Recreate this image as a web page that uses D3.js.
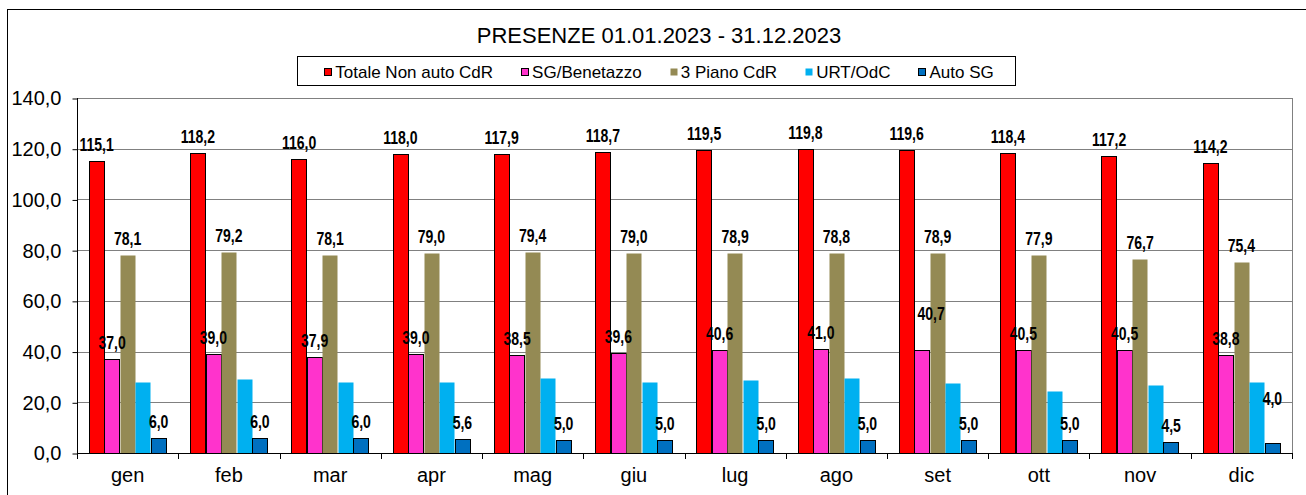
<!DOCTYPE html>
<html>
<head>
	<meta charset="utf-8">
	<title>Presenze 2023</title>
	<script src="https://cdn.jsdelivr.net/npm/d3@7"></script>
	<style>
		body{ margin:0; background:#fff; }
		svg{ display:block; }
		.tick text{ font-family:"Liberation Sans", Arial, sans-serif; }
	</style>
</head>
<body>
<div id="chart"></div>
<script>
	// data
	var months = ['gen','feb','mar','apr','mag','giu','lug','ago','set','ott','nov','dic'];
	var seriesNames = ['Totale Non auto CdR','SG/Benetazzo','3 Piano CdR','URT/OdC','Auto SG'];
	var totaleNonAuto = [115.1,118.2,116.0,118.0,117.9,118.7,119.5,119.8,119.6,118.4,117.2,114.2];
	var sgBenetazzo   = [37.0,39.0,37.9,39.0,38.5,39.6,40.6,41.0,40.7,40.5,40.5,38.8];
	var pianoCdR      = [78.1,79.2,78.1,79.0,79.4,79.0,78.9,78.8,78.9,77.9,76.7,75.4];
	var urtOdc        = [28.1,29.2,28.1,28.1,29.4,28.1,28.9,29.4,27.5,24.4,26.7,27.9];
	var autoSG        = [6.0,6.0,6.0,5.6,5.0,5.0,5.0,5.0,5.0,5.0,4.5,4.0];
	var yTicks = [0,20,40,60,80,100,120,140];

	var seriesValues = [totaleNonAuto, sgBenetazzo, pianoCdR, urtOdc, autoSG];
	var colors  = ['#ff0000','#ff33cc','#948a54','#00b0f0','#0070c0'];
	var strokes = ['#000','#000','none','none','#000'];
	var showLabel = [true,true,true,false,true];
	// a couple of labels were moved by hand in the original
	var nudge = {'1-8':[9,-20], '4-11':[0,-28]};

	var W = 1306, H = 495;
	var pLeft = 77, pRight = 1292, pTop = 98, pBottom = 453;

	var svg = d3.select('#chart').append('svg').attr('width', W).attr('height', H);

	// outer frame
	svg.append('rect').attr('x',7.5).attr('y',9.5).attr('width',1310).attr('height',500)
		.attr('fill','none').attr('stroke','#000');

	var it = d3.formatLocale({decimal:',', thousands:'.', grouping:[3], currency:['€','']});
	var fmt = it.format('.1f');

	var x = d3.scaleBand().domain(months).range([pLeft,pRight]).paddingInner(0.2346).paddingOuter(0.1173);
	var xs = d3.scaleBand().domain(d3.range(seriesNames.length)).range([0, x.bandwidth()]);
	var y = d3.scaleLinear().domain([0,140]).range([pBottom, pTop]);

	// gridlines
	svg.append('g').selectAll('line').data(yTicks.filter(function(d){return d>0;})).enter().append('line')
		.attr('x1',pLeft).attr('x2',pRight)
		.attr('y1',function(d){return Math.round(y(d))+0.5;})
		.attr('y2',function(d){return Math.round(y(d))+0.5;})
		.attr('stroke','#808080');
	svg.append('line').attr('x1',pRight+0.5).attr('x2',pRight+0.5).attr('y1',pTop).attr('y2',pBottom)
		.attr('stroke','#808080');

	// bars
	var barLayer = svg.append('g');
	var labelLayer = svg.append('g');
	seriesValues.forEach(function(vals, s){
		barLayer.append('g').selectAll('rect').data(vals).enter().append('rect')
			.attr('x', function(d,i){return Math.round(x(months[i]) + xs(s)) + 0.5;})
			.attr('y', function(d){return Math.round(y(d)) + 0.5;})
			.attr('width', Math.round(xs.bandwidth()))
			.attr('height', function(d){return Math.round(pBottom - y(d));})
			.attr('fill', colors[s])
			.attr('stroke', strokes[s]);
		if(!showLabel[s]) return;
		labelLayer.append('g').selectAll('text').data(vals).enter().append('text')
			.text(function(d){return fmt(d);})
			.attr('transform', function(d,i){
				var n = nudge[s+'-'+i] || [0,0];
				var tx = x(months[i]) + xs(s) + xs.bandwidth()/2 + n[0];
				var ty = y(d) - 10 + n[1];
				return 'translate('+tx+','+ty+') scale(0.78,1)';
			})
			.style('text-anchor','middle')
			.style('font-family','"Liberation Sans", Arial, sans-serif')
			.style('font-weight','bold')
			.style('font-size','18px')
			.style('fill','#000');
	});

	// y axis
	var yAxis = d3.axisLeft(y).tickValues(yTicks).tickSize(5).tickPadding(11).tickFormat(fmt);
	var ya = svg.append('g').attr('transform','translate('+(pLeft+0.5)+',0.5)').call(yAxis);
	ya.select('.domain').attr('stroke','#000').attr('d','M0,'+(pTop-0.5)+'V'+(pBottom-0.5));
	ya.selectAll('.tick text').style('font-size','20px').style('fill','#000');

	// x axis: line, ticks at band edges, labels centered
	var edges = months.map(function(m){return x(m) - x.step()*x.paddingOuter();}).concat([pRight]);
	svg.append('line').attr('x1',pLeft).attr('x2',pRight+1).attr('y1',pBottom+0.5).attr('y2',pBottom+0.5).attr('stroke','#000');
	svg.append('g').selectAll('line').data(edges).enter().append('line')
		.attr('x1',function(d){return Math.round(d)+0.5;}).attr('x2',function(d){return Math.round(d)+0.5;})
		.attr('y1',pBottom).attr('y2',pBottom+6).attr('stroke','#000');
	svg.append('g').selectAll('text').data(months).enter().append('text')
		.text(function(d){return d;})
		.attr('x',function(d){return x(d) + x.bandwidth()/2;})
		.attr('y',482)
		.style('text-anchor','middle')
		.style('font-family','"Liberation Sans", Arial, sans-serif')
		.style('font-size','20px')
		.style('fill','#000');

	// title
	svg.append('text').text('PRESENZE 01.01.2023 - 31.12.2023')
		.attr('x',659).attr('y',43)
		.style('text-anchor','middle')
		.style('font-family','"Liberation Sans", Arial, sans-serif')
		.style('font-size','22px')
		.style('fill','#000');

	// legend
	var leg = svg.append('g');
	var legBox = leg.append('rect').attr('y',56.5).attr('height',29)
		.attr('fill','#fff').attr('stroke','#000');
	var items = leg.selectAll('g').data(seriesNames).enter().append('g');
	items.append('text').text(function(d){return d;})
		.attr('y',78)
		.style('font-family','"Liberation Sans", Arial, sans-serif')
		.style('font-size','17px')
		.style('fill','#000');
	var widths = [];
	items.select('text').each(function(){ widths.push(this.getComputedTextLength()); });
	var gap = 28, total = 0;
	widths.forEach(function(w,i){ total += 11 + w + (i ? gap : 0); });
	var lx = 659 - total/2;
	items.each(function(d,i){
		var g = d3.select(this);
		g.append('rect').attr('x',Math.round(lx)+0.5).attr('y',68.5).attr('width',7).attr('height',7)
			.attr('fill',colors[i]).attr('stroke',strokes[i] === 'none' ? 'none' : '#000');
		g.select('text').attr('x',lx+11);
		lx += 11 + widths[i] + gap;
	});
	legBox.attr('x', Math.round(659 - total/2 - 27) + 0.5).attr('width', Math.round(total + 49));
</script>
</body>
</html>
